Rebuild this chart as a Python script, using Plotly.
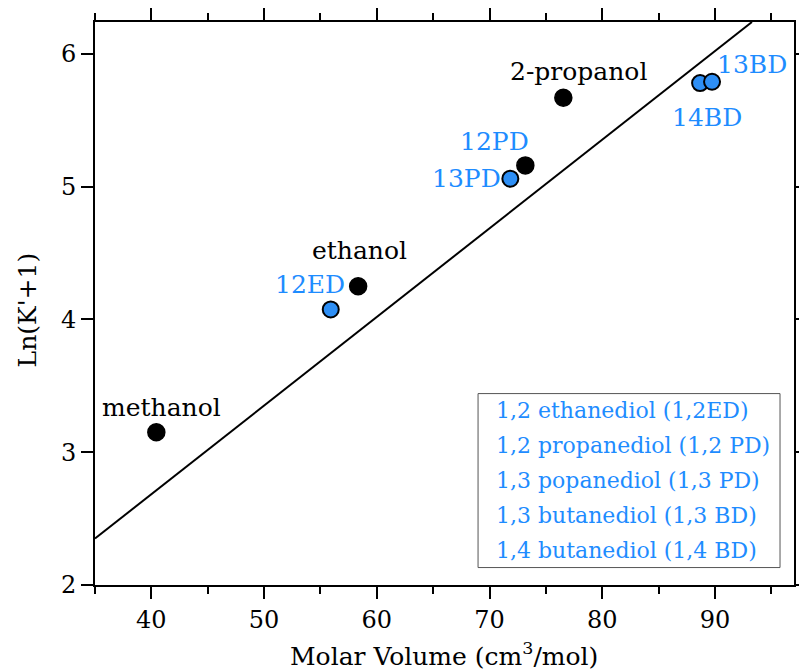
import plotly.graph_objects as go

# Data
alcohol_names = ["methanol", "ethanol", "12PD", "2-propanol"]
alcohol_x = [40.44, 58.34, 73.17, 76.54]
alcohol_y = [3.15, 4.25, 5.16, 5.67]

diol_names = ["12ED", "13PD", "14BD", "13BD"]
diol_x = [55.91, 71.84, 88.67, 89.73]
diol_y = [4.075, 5.06, 5.78, 5.79]

fit_x = [35.0, 93.27]
fit_y = [2.35, 6.24]

# label positions (data coords) and colors
label_text = ["methanol", "ethanol", "12ED", "12PD", "13PD", "2-propanol", "13BD", "14BD"]
label_x = [40.87, 58.5, 54.06, 70.4, 67.93, 77.89, 93.27, 89.27]
label_y = [3.34, 4.52, 4.26, 5.34, 5.06, 5.87, 5.92, 5.52]
label_blue = [False, False, True, True, True, False, True, True]

legend_lines = [
    "1,2 ethanediol (1,2ED)",
    "1,2 propanediol (1,2 PD)",
    "1,3 popanediol (1,3 PD)",
    "1,3 butanediol (1,3 BD)",
    "1,4 butanediol (1,4 BD)",
]

BLUE = "#1E8CFF"
FONT = "DejaVu Serif"
FS = 25

fig = go.Figure()
fig.add_trace(go.Scatter(x=fit_x, y=fit_y, mode="lines",
                         line=dict(color="black", width=2), showlegend=False))
fig.add_trace(go.Scatter(x=alcohol_x, y=alcohol_y, mode="markers",
                         marker=dict(color="black", size=17, line=dict(color="black", width=1.5)),
                         showlegend=False))
fig.add_trace(go.Scatter(x=diol_x, y=diol_y, mode="markers",
                         marker=dict(color="#2E8FF5", size=16, line=dict(color="black", width=2)),
                         showlegend=False))

for t, x, y, b in zip(label_text, label_x, label_y, label_blue):
    fig.add_annotation(x=x, y=y, text=t, showarrow=False, xanchor="center", yanchor="middle",
                       font=dict(family=FONT, size=FS, color=BLUE if b else "black"))

# legend-like box
box_x0, box_x1, box_y0, box_y1 = 0.548, 0.980, 0.031, 0.340
fig.add_shape(type="rect", xref="paper", yref="paper", x0=box_x0, x1=box_x1, y0=box_y0, y1=box_y1,
              line=dict(color="#555555", width=1), fillcolor="white", layer="above")
n = len(legend_lines)
for i, t in enumerate(legend_lines):
    yy = box_y1 - (box_y1 - box_y0) * (i + 0.5) / n
    fig.add_annotation(xref="paper", yref="paper", x=0.571, y=yy, text=t, showarrow=False,
                       xanchor="left", yanchor="middle",
                       font=dict(family=FONT, size=22, color=BLUE))

# axis titles
fig.add_annotation(xref="paper", yref="paper", x=0.499, y=-0.124, text="Molar Volume (cm<sup>3</sup>/mol)",
                   showarrow=False, xanchor="center", yanchor="middle",
                   font=dict(family=FONT, size=FS, color="black"))
fig.add_annotation(xref="paper", yref="paper", x=-0.097, y=0.488, text="Ln(K'+1)", textangle=-90,
                   showarrow=False, xanchor="center", yanchor="middle",
                   font=dict(family=FONT, size=FS, color="black"))

axis_common = dict(showline=True, linecolor="black", linewidth=2, mirror="ticks",
                   ticks="outside", ticklen=12, tickwidth=2, tickcolor="black",
                   showgrid=False, zeroline=False, automargin=False,
                   tickfont=dict(family=FONT, size=24, color="black"))

fig.update_xaxes(range=[35, 97], dtick=10, tick0=0,
                 minor=dict(dtick=5, ticks="outside", ticklen=7, tickwidth=2, tickcolor="black"),
                 **axis_common)
fig.update_yaxes(range=[2, 6.24], dtick=1, tick0=0,
                 **axis_common)

fig.update_layout(width=799, height=670, plot_bgcolor="white", paper_bgcolor="white",
                  margin=dict(l=95, r=5, t=22, b=85), showlegend=False)

fig.write_html("out.html", config={"displayModeBar": False},
               post_script="document.body.style.margin='0';document.body.style.overflow='hidden';")
